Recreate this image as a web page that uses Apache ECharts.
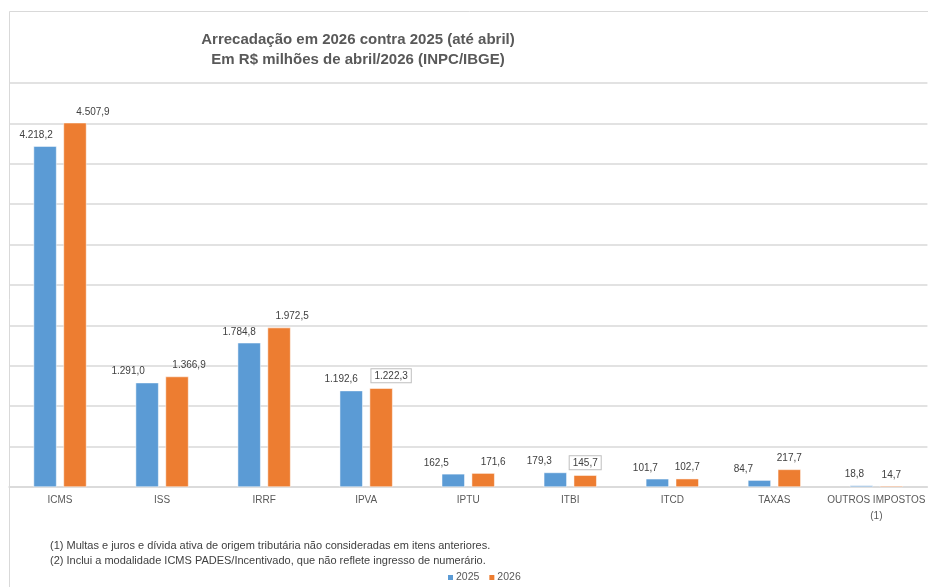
<!DOCTYPE html>
<html>
<head>
<meta charset="utf-8">
<script src="https://cdn.jsdelivr.net/npm/echarts@6/dist/echarts.min.js"></script>
<style>html,body{margin:0;padding:0;background:#fff}#c{width:928px;height:587px}</style>
</head>
<body>
<div id="c"></div>
<script>
var categories = ['ICMS', 'ISS', 'IRRF', 'IPVA', 'IPTU', 'ITBI', 'ITCD', 'TAXAS', 'OUTROS IMPOSTOS\n(1)'];
var values2025 = [4218.2, 1291.0, 1784.8, 1192.6, 162.5, 179.3, 101.7, 84.7, 18.8];
var values2026 = [4507.9, 1366.9, 1972.5, 1222.3, 171.6, 145.7, 102.7, 217.7, 14.7];
var seriesNames = ['2025', '2026'];
var titleLines = ['Arrecadação em 2026 contra 2025 (até abril)', 'Em R$ milhões de abril/2026 (INPC/IBGE)'];
var footnotes = ['(1) Multas e juros e dívida ativa de origem tributária não consideradas em itens anteriores.',
                 '(2) Inclui a modalidade ICMS PADES/Incentivado, que não reflete ingresso de numerário.'];
var yMin = 0, yMax = 5000, yStep = 500;

var FONT = "'Liberation Sans', Arial, sans-serif";
function fmt(v) {
  var s = v.toFixed(1).split('.');
  var i = s[0].replace(/\B(?=(\d{3})+(?!\d))/g, '.');
  return i + ',' + s[1];
}
var boxed2026 = ['IPVA', 'ITBI'];
var shift2026 = [18, 12, 13, 10, 10, 0, 0, 0, 0];
var shift2025 = [-9, -19, -10, -10, -17, -16, -12, -16, -7];

var labelBase = { show: true, position: 'top', distance: 6, color: '#404040', fontSize: 10, fontFamily: FONT,
  formatter: function (p) { return fmt(p.value); } };

var data2025 = values2025.map(function (v, i) {
  return { value: v, label: { offset: [shift2025[i], 0] } };
});
var data2026 = values2026.map(function (v, i) {
  var lab = { offset: [shift2026[i], 0] };
  if (boxed2026.indexOf(categories[i]) >= 0) {
    lab.borderColor = '#bfbfbf'; lab.borderWidth = 1; lab.padding = [2, 3, 1, 3]; lab.backgroundColor = '#fff';
  }
  return { value: v, label: lab };
});

var chart = echarts.init(document.getElementById('c'), null, { renderer: 'canvas' });
chart.setOption({
  animation: false,
  backgroundColor: '#fff',
  textStyle: { fontFamily: FONT },
  graphic: [
    { type: 'rect', shape: { x: 9.5, y: 11.5, width: 1000, height: 700 }, style: { fill: 'none', stroke: '#d9d9d9', lineWidth: 1 }, z: -1 },
    { type: 'text', x: 358, y: 32, style: { text: titleLines[0], fill: '#595959', font: 'bold 15px ' + FONT, textAlign: 'center' } },
    { type: 'text', x: 358, y: 52, style: { text: titleLines[1], fill: '#595959', font: 'bold 15px ' + FONT, textAlign: 'center' } },
    { type: 'text', x: 50, y: 540, style: { text: footnotes[0], fill: '#404040', font: '11px ' + FONT } },
    { type: 'text', x: 50, y: 555, style: { text: footnotes[1], fill: '#404040', font: '11px ' + FONT } }
  ],
  legend: {
    data: seriesNames, left: 441, top: 567, itemWidth: 7, itemHeight: 7, itemGap: 8,
    icon: 'rect', textStyle: { color: '#595959', fontSize: 10.5, fontFamily: FONT, padding: [0, 0, 0, -3] }
  },
  grid: { left: 9, top: 83, width: 927, height: 404, containLabel: false },
  xAxis: {
    type: 'category', data: categories,
    axisLine: { show: true, lineStyle: { color: '#d9d9d9', width: 1.5 } },
    axisTick: { show: false },
    axisLabel: { color: '#595959', fontSize: 10, fontFamily: FONT, margin: 5, lineHeight: 16, interval: 0 }
  },
  yAxis: {
    type: 'value', min: yMin, max: yMax, interval: yStep,
    axisLine: { show: false }, axisTick: { show: false }, axisLabel: { show: false },
    splitLine: { lineStyle: { color: '#d9d9d9', width: 1.5 } }
  },
  series: [
    { name: seriesNames[0], type: 'bar', data: data2025, barWidth: 23, barGap: '30%',
      itemStyle: { color: '#5B9BD5', borderColor: '#fff', borderWidth: 0.5 }, label: labelBase },
    { name: seriesNames[1], type: 'bar', data: data2026, barWidth: 23, barGap: '30%',
      itemStyle: { color: '#ED7D31', borderColor: '#fff', borderWidth: 0.5 }, label: labelBase }
  ]
});
</script>
</body>
</html>
